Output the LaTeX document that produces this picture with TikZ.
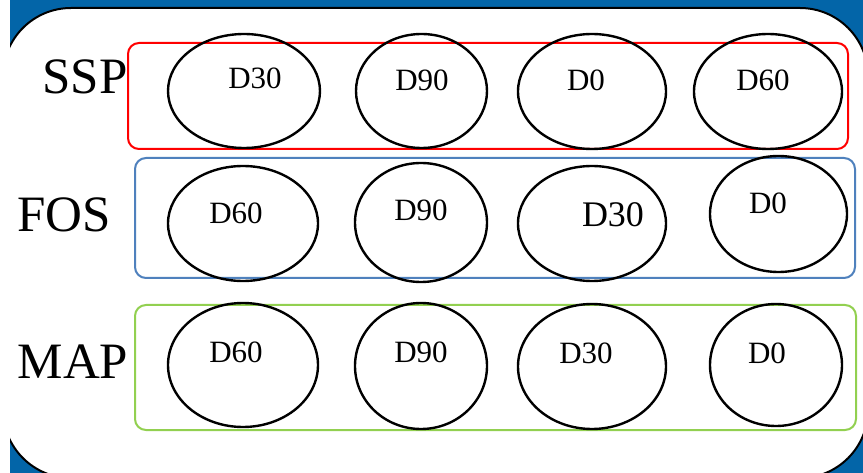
\documentclass[tikz,border=0pt]{standalone}
\usepackage{fontspec}
\setmainfont{Liberation Serif}
\usetikzlibrary{shapes.geometric}
\definecolor{bgblue}{RGB}{3,101,168}
\definecolor{boxred}{RGB}{255,0,0}
\definecolor{boxblue}{RGB}{79,129,189}
\definecolor{boxgreen}{RGB}{146,208,80}
\tikzset{
  oval/.style={ellipse, draw=black, line width=2.4pt, inner sep=0pt, outer sep=0pt},
  dlabel/.style={inner sep=0pt, font=\fontsize{31}{31}\selectfont},
  rowlabel/.style={inner sep=0pt, font=\fontsize{51}{51}\selectfont},
  group/.style={line width=2pt, rounded corners=11pt}
}
\begin{document}
\begin{tikzpicture}[x=1pt,y=-1pt]
\useasboundingbox (0,0) rectangle (863,473);
\clip (0,0) rectangle (863,473);
% background
\fill[bgblue] (10,0) rectangle (863,473);
\draw[fill=white, line width=2pt, rounded corners=68pt] (3,8) rectangle (868,478);
\fill[white] (0,0) rectangle (10,473);
% group boxes
\draw[group, draw=boxred] (128,43) rectangle (848,149);
\draw[group, draw=boxblue] (135,158) rectangle (855,278);
\draw[group, draw=boxgreen] (135,305) rectangle (856,430);
% row labels
\node[rowlabel] (ssp) at (85,77) {SSP};
\node[rowlabel] (fos) at (64,215) {FOS};
\node[rowlabel] (map) at (73,362) {MAP};
% SSP row
\node[oval, minimum width=152pt, minimum height=114pt] (s1) at (244,91) {};
\node[oval, minimum width=131pt, minimum height=114pt] (s2) at (421.5,91) {};
\node[oval, minimum width=148pt, minimum height=115pt] (s3) at (592,91.5) {};
\node[oval, minimum width=148pt, minimum height=115pt] (s4) at (768,91.5) {};
\node[dlabel] (s1t) at (255,78) {D30};
\node[dlabel] (s2t) at (422,80) {D90};
\node[dlabel] (s3t) at (586,80) {D0};
\node[dlabel] (s4t) at (763,80) {D60};
% FOS row
\node[oval, minimum width=150pt, minimum height=115pt] (f1) at (243,223.5) {};
\node[oval, minimum width=132pt, minimum height=119pt] (f2) at (421,222.5) {};
\node[oval, minimum width=148pt, minimum height=115pt] (f3) at (592,223.5) {};
\node[oval, minimum width=137pt, minimum height=116pt] (f4) at (778.5,214) {};
\node[dlabel] (f1t) at (236,213) {D60};
\node[dlabel] (f2t) at (421,210) {D90};
\node[dlabel, font=\fontsize{36}{36}\selectfont] (f3t) at (613,215) {D30};
\node[dlabel] (f4t) at (768,203) {D0};
% MAP row
\node[oval, minimum width=150pt, minimum height=124pt] (m1) at (243,365) {};
\node[oval, minimum width=132pt, minimum height=126pt] (m2) at (421,366) {};
\node[oval, minimum width=148pt, minimum height=125pt] (m3) at (592,366.5) {};
\node[oval, minimum width=132pt, minimum height=122pt] (m4) at (776,365) {};
\node[dlabel] (m1t) at (236,352) {D60};
\node[dlabel] (m2t) at (421,352) {D90};
\node[dlabel] (m3t) at (586,353) {D30};
\node[dlabel] (m4t) at (767,353) {D0};
\end{tikzpicture}
\end{document}
